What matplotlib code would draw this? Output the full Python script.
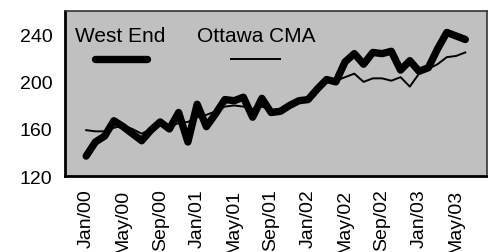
import matplotlib
matplotlib.use("Agg")
import matplotlib.pyplot as plt

plt.rcParams["font.family"] = ["Liberation Sans", "DejaVu Sans"]

# === Daten (monatlich, Jan/00 bis Jun/03) ===
west_end = [137, 149, 154, 167, 162, 156, 150, 159, 166, 160,
            174, 149, 181, 162, 173, 185, 184, 187, 170, 186,
            174, 175, 180, 184, 185, 194, 202, 200, 217, 224,
            215, 225, 224, 226, 210, 218, 209, 212, 228, 242,
            239, 236]
ottawa_cma = [159, 158, 158, 161, 163, 160, 156, 160, 163, 162,
              165, 166, 170, 172, 175, 179, 180, 179, 177, 179,
              176, 177, 180, 183, 185, 193, 200, 201, 204, 207,
              200, 203, 203, 201, 204, 196, 207, 211, 215, 221,
              222, 225]
tick_labels = ["Jan/00", "May/00", "Sep/00", "Jan/01", "May/01", "Sep/01",
               "Jan/02", "May/02", "Sep/02", "Jan/03", "May/03"]
y_ticks = [120, 160, 200, 240]

months = list(range(len(west_end)))
tick_pos = list(range(0, 4 * len(tick_labels), 4))

# === Plot ===
fig = plt.figure(figsize=(4.88, 2.53), dpi=100)
ax = fig.add_axes([0.133, 0.300, 0.865, 0.654])
ax.set_facecolor("#C0C0C0")

ax.plot(months, ottawa_cma, color="black", linewidth=1.4, zorder=2)
ax.plot(months, west_end, color="black", linewidth=5.3,
        solid_capstyle="round", solid_joinstyle="round", zorder=3)

ax.set_xlim(-2.3, 43.35)
ax.set_ylim(120, 260.5)
ax.set_yticks(y_ticks)
ax.set_xticks(tick_pos)
ax.set_xticklabels(tick_labels, rotation=90)
ax.tick_params(axis="both", length=0, labelsize=14)
ax.tick_params(axis="y", pad=9)
ax.tick_params(axis="x", pad=9)

for side in ["left", "bottom"]:
    ax.spines[side].set_linewidth(2)
for side in ["top", "right"]:
    ax.spines[side].set_linewidth(1.2)
    ax.spines[side].set_color("#333333")

# Legende: Text oben, Linie darunter
ax.text(0.024, 0.85, "West End", transform=ax.transAxes, fontsize=15,
        va="center", ha="left")
ax.plot([0.071, 0.195], [0.705, 0.705], transform=ax.transAxes, color="black",
        linewidth=5.3, solid_capstyle="round")
ax.text(0.313, 0.85, "Ottawa CMA", transform=ax.transAxes, fontsize=15,
        va="center", ha="left")
ax.plot([0.394, 0.510], [0.705, 0.705], transform=ax.transAxes, color="black",
        linewidth=1.4)

fig.savefig("out.png", dpi=100)
